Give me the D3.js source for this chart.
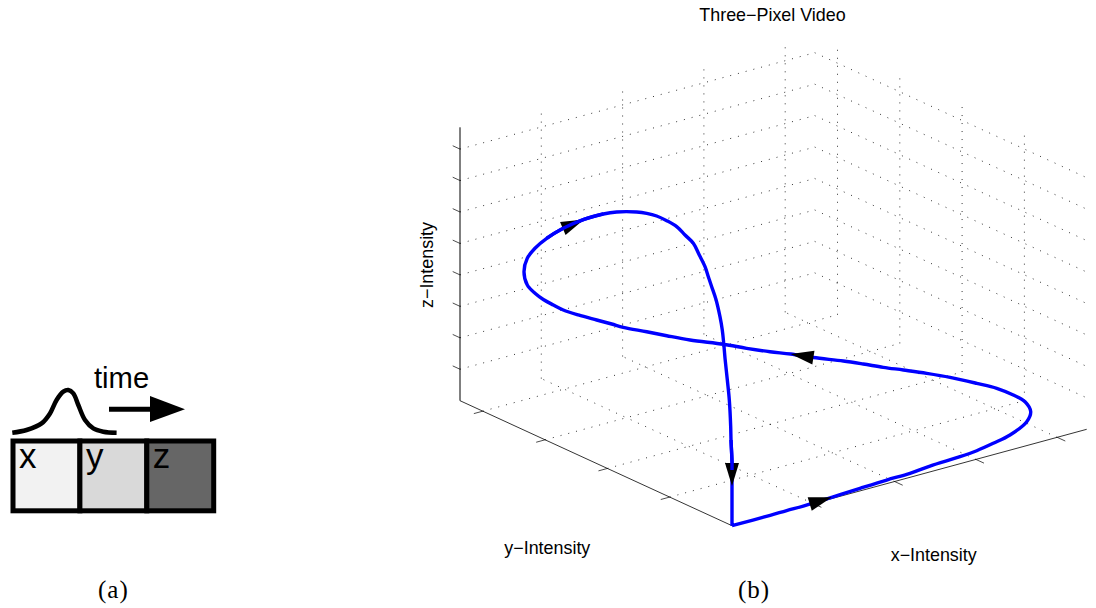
<!DOCTYPE html>
<html>
<head>
<meta charset="utf-8">
<title>Three-Pixel Video</title>
<script src="https://cdn.jsdelivr.net/npm/d3@7"></script>
<style>
	html, body { margin: 0; padding: 0; background: #ffffff; }
	svg { display: block; }
	text { font-family: "Liberation Sans", sans-serif; fill: #000; }
	.caption { font-family: "Liberation Serif", serif; font-size: 25px; letter-spacing: 1px; }
	.grid { fill: none; stroke: #000; stroke-width: 0.8; stroke-dasharray: 1 7; }
</style>
</head>
<body>
<script>
// panel (a)
var cellLabels = ["x", "y", "z"];
var cellGrays = ["#f2f2f2", "#d9d9d9", "#666666"];
var pulseT = [0, 14.3, 29.3, 37.7, 44.3, 51, 56, 61, 66, 72.7, 81, 91, 104.3];
var pulseV = [0, 2.7, 9.3, 19.3, 32.7, 41, 42.7, 39.3, 27.7, 12.7, 4.3, 1, 0];

// panel (b)
var xTicks = [1, 2, 3, 4];
var yTicks = [1, 2, 3, 4];
var zTicks = [1, 2, 3, 4, 5, 6, 7, 8];
var xMax = 4.363, yMax = 4.366, zMax = 8.693, zGridTop = 8.55;

var pathX = [0, 0.47, 0.678, 0.882, 1.248, 1.618, 1.964, 2.257, 2.534, 2.923, 3.153, 3.405, 3.674, 4.027, 4.226, 4.35, 4.372, 4.357, 4.286, 4.181, 4.068, 3.943, 3.833, 3.734, 3.63, 3.457, 3.341, 3.22, 3.097, 2.987,
	2.6, 2.25, 1.95, 1.6, 1.4, 1.15, 0.85, 0.6, 0.42, 0.28, 0.16, 0.07,
	0, 0, 0, 0, 0, 0, 0, 0, 0, 0, 0, 0, 0, 0, 0, 0, 0, 0, 0, 0, 0, 0, 0, 0, 0, 0, 0, 0, 0, 0, 0, 0];
var pathY = [0, 0, 0.007, 0.007, 0.028, 0.057, 0.08, 0.088, 0.129, 0.154, 0.186, 0.25, 0.332, 0.524, 0.72, 0.973, 1.19, 1.436, 1.665, 1.956, 2.183, 2.395, 2.574, 2.766, 2.951, 3.206, 3.418, 3.592, 3.806, 4.031,
	4.067, 3.984, 3.914, 3.833, 3.758, 3.673, 3.576, 3.491, 3.416, 3.394, 3.371, 3.377,
	3.339, 3.286, 3.162, 2.974, 2.708, 2.376, 2.066, 1.851, 1.53, 1.369, 1.209, 1.048, 0.888, 0.754, 0.621, 0.525, 0.433, 0.38, 0.326, 0.257, 0.193, 0.156, 0.133, 0.112, 0.075, 0.043, 0.021, 0.016, 0, 0, 0, 0];
var pathZ = [0, 0, 0, 0, 0, 0, 0, 0, 0, 0, 0, 0, 0, 0, 0, 0, 0, 0, 0, 0, 0, 0, 0, 0, 0, 0, 0, 0, 0, 0,
	0.375, 0.833, 1.235, 1.695, 2.009, 2.389, 2.847, 3.259, 3.613, 3.906, 4.208, 4.53,
	5.037, 5.511, 5.942, 6.431, 6.991, 7.574, 8.031, 8.29, 8.582, 8.687, 8.747, 8.744, 8.699, 8.557, 8.414, 8.13, 7.841, 7.571, 7.303, 6.959, 6.47, 6.081, 5.679, 5.22, 4.564, 3.957, 3.129, 2.71, 2.025, 1.771, 1.262, 0];

// path indices where an arrow tip sits, and the bits of line painted over an arrow
var arrowTips = [4, 26, 47, 72];
var overArrow = [[45, 48], [69, 71]];

var svg = d3.select("body").append("svg").attr("width", 1096).attr("height", 608);

// ---- panel (a)
var cellX = d3.scaleBand().domain(cellLabels).range([13, 213.7]);
var a = svg.append("g");

a.selectAll("rect").data(cellLabels).enter().append("rect")
	.attr("x", function(d) { return cellX(d); })
	.attr("y", 441)
	.attr("width", cellX.bandwidth())
	.attr("height", 69.8)
	.attr("fill", function(d, i) { return cellGrays[i]; })
	.attr("stroke", "#000")
	.attr("stroke-width", 5);

a.selectAll("text.cell").data(cellLabels).enter().append("text")
	.attr("class", "cell")
	.attr("x", function(d) { return cellX(d) + 6; })
	.attr("y", 468)
	.attr("font-size", 35)
	.text(function(d) { return d; });

var pulseXs = d3.scaleLinear().domain([0, 104.3]).range([12.3, 116.6]);
var pulseYs = d3.scaleLinear().domain([0, 42.7]).range([432.7, 390]);
a.append("path")
	.attr("d", d3.line().curve(d3.curveCatmullRom)
		.x(function(d) { return pulseXs(d); })
		.y(function(d, i) { return pulseYs(pulseV[i]); })(pulseT))
	.attr("fill", "none").attr("stroke", "#000").attr("stroke-width", 4.5);

a.append("text").attr("x", 94).attr("y", 388).attr("font-size", 29.2).text("time");
a.append("line").attr("x1", 109).attr("x2", 152).attr("y1", 409.3).attr("y2", 409.3)
	.attr("stroke", "#000").attr("stroke-width", 5);
a.append("path").attr("d", "M150,396L185,409.3L150,422Z").attr("fill", "#000");

// ---- panel (b), fixed view so a plain linear projection is enough
var originX = 732, originY = 525.7;
var xH = d3.scaleLinear().domain([0, xMax]).range([0, 354.7]);
var xV = d3.scaleLinear().domain([0, xMax]).range([0, 96.4]);
var yH = d3.scaleLinear().domain([0, yMax]).range([0, 272]);
var yV = d3.scaleLinear().domain([0, yMax]).range([0, 125]);
var zV = d3.scaleLinear().domain([0, zMax]).range([0, 273.4]);

function project(x, y, z) {
	return [originX + xH(x) - yH(y), originY - xV(x) - yV(y) - zV(z)];
}

var b = svg.append("g");
var seg = d3.line();

function gridLine(p, q) {
	b.append("path").attr("class", "grid").attr("d", seg([project.apply(null, p), project.apply(null, q)]));
}
function axisLine(p, q, color, w) {
	b.append("path").attr("d", seg([project.apply(null, p), project.apply(null, q)]))
		.attr("fill", "none").attr("stroke", color).attr("stroke-width", w);
}

zTicks.forEach(function(z) {
	gridLine([0, yMax, z], [xMax, yMax, z]);
	gridLine([xMax, yMax, z], [xMax, 0, z]);
	axisLine([0, yMax, z], [0, yMax + 0.117, z], "#000", 0.7);
});
xTicks.forEach(function(x) {
	gridLine([x, 0, 0], [x, yMax, 0]);
	gridLine([x, yMax, 0], [x, yMax, zGridTop]);
	axisLine([x, 0, 0], [x, -0.13, 0], "#000", 0.7);
});
yTicks.forEach(function(y) {
	gridLine([0, y, 0], [xMax, y, 0]);
	gridLine([xMax, y, 0], [xMax, y, zGridTop]);
	axisLine([0, y, 0], [-0.11, y, 0], "#000", 0.7);
});

axisLine([0, 0, 0], [xMax, 0, 0], "#000", 0.8);
axisLine([0, 0, 0], [0, yMax, 0], "#000", 0.8);
axisLine([0, yMax, 0], [0, yMax, zMax], "#000", 1);

var pts = pathX.map(function(x, i) { return project(x, pathY[i], pathZ[i]); });
var curve = d3.line().curve(d3.curveCatmullRom);

function bluePath(p) {
	b.append("path").attr("d", curve(p))
		.attr("fill", "none").attr("stroke", "#0000ff").attr("stroke-width", 3.4)
		.attr("stroke-linejoin", "round");
}
bluePath(pts);

arrowTips.forEach(function(k) {
	var tip = pts[k], prev = pts[k - 1];
	var ang = Math.atan2(tip[1] - prev[1], tip[0] - prev[0]) * 180 / Math.PI;
	b.append("path").attr("d", "M0,0L-23,-7L-23,7Z").attr("fill", "#000")
		.attr("transform", "translate(" + tip[0] + "," + tip[1] + ") rotate(" + ang + ")");
});

overArrow.forEach(function(r) { bluePath(pts.slice(r[0], r[1] + 1)); });

// ---- labels
svg.append("text").attr("x", 699.3).attr("y", 20.7).attr("font-size", 17.9).text("Three\u2212Pixel Video");
svg.append("text").attr("x", 890.7).attr("y", 560.7).attr("font-size", 17.9).text("x\u2212Intensity");
svg.append("text").attr("x", 504.3).attr("y", 554).attr("font-size", 17.9).text("y\u2212Intensity");
svg.append("text").attr("transform", "translate(433.3,308) rotate(-90)").attr("font-size", 17.9).text("z\u2212Intensity");

svg.append("text").attr("class", "caption").attr("x", 98).attr("y", 598).text("(a)");
svg.append("text").attr("class", "caption").attr("x", 738).attr("y", 598).text("(b)");
</script>
</body>
</html>
